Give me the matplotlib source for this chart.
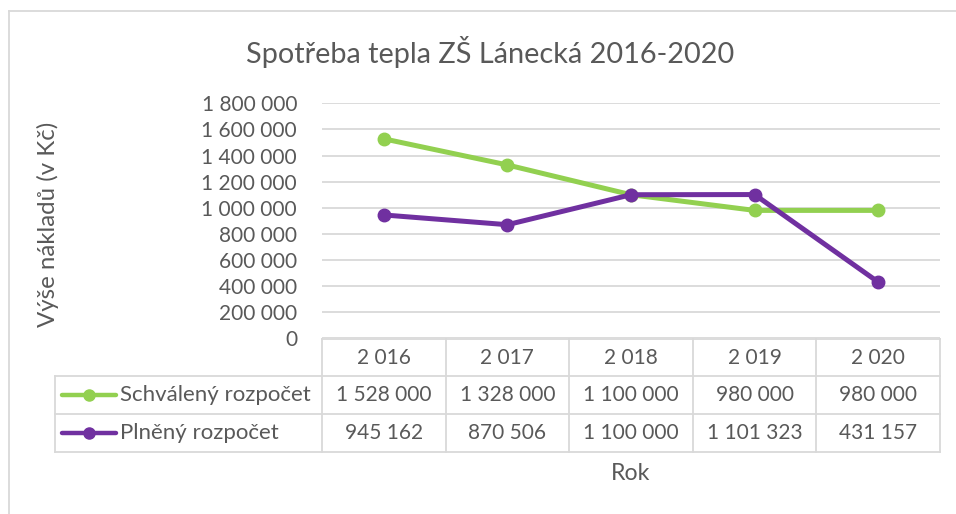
import matplotlib
matplotlib.use("Agg")
import matplotlib.pyplot as plt
from matplotlib.lines import Line2D
from matplotlib.transforms import blended_transform_factory

plt.rcParams['font.family'] = ['Lato', 'DejaVu Sans']

years = ["2 016", "2 017", "2 018", "2 019", "2 020"]
series_names = ["Schválený rozpočet", "Plněný rozpočet"]
schvaleny = [1528000, 1328000, 1100000, 980000, 980000]
plneny = [945162, 870506, 1100000, 1101323, 431157]
yticks = [0, 200000, 400000, 600000, 800000, 1000000, 1200000, 1400000, 1600000, 1800000]
colors = ["#92d050", "#7030a0"]

W, H = 956, 514
fig = plt.figure(figsize=(W / 100, H / 100), dpi=100)

def fx(px):
    return px / W

def fy(py):
    return 1 - py / H

TXT = "#595959"
GRID = "#d9d9d9"

ax_left, ax_right, ax_top, ax_bot = 322, 940, 103.3, 338.4
ax = fig.add_axes([fx(ax_left), fy(ax_bot), fx(ax_right - ax_left), (ax_bot - ax_top) / H])
ax.set_xlim(-0.5, len(years) - 0.5)
ax.set_ylim(0, 1800000)
ax.set_yticks(yticks)
ax.set_yticklabels([f"{v:,}".replace(",", " ") for v in yticks], fontsize=15, color=TXT)
ax.tick_params(axis='y', length=0, pad=18)
ax.set_xticks([])
for s in ax.spines.values():
    s.set_visible(False)
ax.grid(axis='y', color=GRID, linewidth=1.3)
ax.set_axisbelow(True)

xs = list(range(len(years)))
for vals, c in zip([schvaleny, plneny], colors):
    ax.plot(xs, vals, color=c, linewidth=3.6, marker='o', markersize=9, solid_capstyle='round', zorder=3)

# Chart border (top and left)
fig.add_artist(Line2D([fx(9), fx(9)], [fy(11), fy(514)], color=GRID, linewidth=1.3))
fig.add_artist(Line2D([fx(9), fx(956)], [fy(11), fy(11)], color=GRID, linewidth=1.3))

# Title
fig.text(fx(490), fy(52), "Spotřeba tepla ZŠ Lánecká 2016-2020", ha='center', va='center', fontsize=20.8, color=TXT)

# Axis titles
fig.text(fx(48), fy(224), "Výše nákladů (v Kč)", rotation=90, ha='center', va='center', fontsize=17.3, color=TXT)
fig.text(fx(631), fy(473), "Rok", ha='center', va='center', fontsize=16.7, color=TXT)

# Data table
tr = blended_transform_factory(ax.transData, fig.transFigure)
row_y = [339, 376, 414, 452]
tab_left = 55
lw = 1.3
fig.add_artist(Line2D([-0.5, len(years) - 0.5], [fy(row_y[0])] * 2, transform=tr, color=GRID, linewidth=lw))
for yy in row_y[1:]:
    fig.add_artist(Line2D([fx(tab_left), fx(ax_right)], [fy(yy)] * 2, color=GRID, linewidth=lw))
for i in range(len(years) + 1):
    fig.add_artist(Line2D([i - 0.5, i - 0.5], [fy(row_y[0]), fy(row_y[3])], transform=tr, color=GRID, linewidth=lw))
fig.add_artist(Line2D([fx(tab_left), fx(tab_left)], [fy(row_y[1]), fy(row_y[3])], color=GRID, linewidth=lw))

fs = 15
for i, yl in enumerate(years):
    fig.text(i, fy((row_y[0] + row_y[1]) / 2), yl, transform=tr, ha='center', va='center', fontsize=fs, color=TXT)
for r, (vals, name, c) in enumerate(zip([schvaleny, plneny], series_names, colors)):
    yc = fy((row_y[r + 1] + row_y[r + 2]) / 2)
    for i, v in enumerate(vals):
        fig.text(i, yc, f"{v:,}".replace(",", " "), transform=tr, ha='center', va='center', fontsize=fs, color=TXT)
    fig.add_artist(Line2D([fx(62), fx(116)], [yc, yc], color=c, linewidth=3.2, solid_capstyle='round'))
    fig.add_artist(Line2D([fx(89)], [yc], color=c, marker='o', markersize=8))
    fig.text(fx(120), yc, name, ha='left', va='center', fontsize=16, color=TXT)

fig.savefig("out.png", dpi=100)
